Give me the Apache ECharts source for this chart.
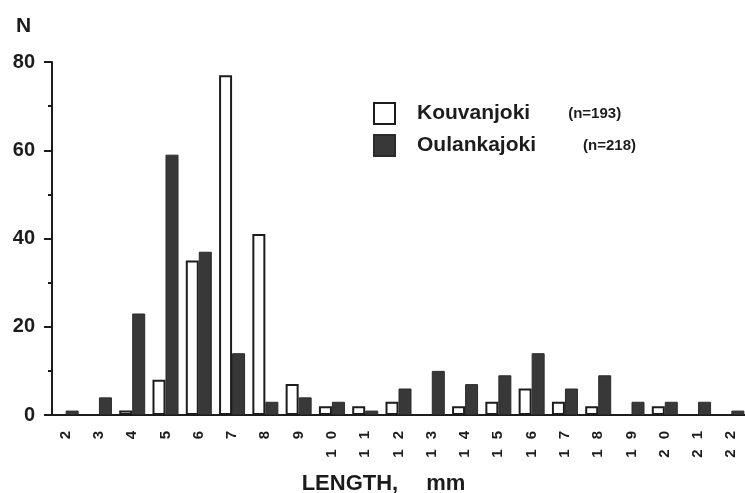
<!DOCTYPE html>
<html>
<head>
<meta charset="utf-8">
<script src="https://cdn.jsdelivr.net/npm/echarts@6/dist/echarts.min.js"></script>
<style>
html,body{margin:0;padding:0;background:#fff;}
#chart{width:745px;height:493px;}
</style>
</head>
<body>
<div id="chart"></div>
<script>
const categories = ['2','3','4','5','6','7','8','9','10','11','12','13','14','15','16','17','18','19','20','21','22'];
const kouvanjoki = [0,0,1,8,35,77,41,7,2,2,3,0,2,3,6,3,2,0,2,0,0];
const oulankajoki = [1,4,23,59,37,14,3,4,3,1,6,10,7,9,14,6,9,3,3,3,1];
const yTicks = [0,20,40,60,80];
const seriesNames = ['Kouvanjoki','Oulankajoki'];
const sampleSizes = ['(n=193)','(n=218)'];

const FONT = '"Liberation Sans", Arial, Helvetica, sans-serif';
const INK = '#1c1c1c';

const chart = echarts.init(document.getElementById('chart'), null, {renderer:'canvas'});
chart.setOption({
  backgroundColor:'#ffffff',
  animation:false,
  title:{
    text:'N', left:11, top:11,
    textStyle:{fontFamily:FONT, fontWeight:'bold', fontSize:21, color:INK}
  },
  legend:{
    orient:'vertical', left:373, top:102, padding:0,
    icon:'rect',
    itemWidth:21, itemHeight:21, itemGap:9,
    data:seriesNames,
    formatter:function(name){
      const i = seriesNames.indexOf(name);
      return '{s|}{a|'+name+'}{'+(i===0?'g1':'g2')+'|}{b|'+sampleSizes[i]+'}';
    },
    textStyle:{
      fontFamily:FONT, color:INK,
      rich:{
        s:{width:17},
        a:{fontFamily:FONT, fontWeight:'bold', fontSize:21, color:INK},
        g1:{width:38},
        g2:{width:47},
        b:{fontFamily:FONT, fontWeight:'bold', fontSize:15, color:INK}
      }
    }
  },
  grid:{left:49, right:-3, top:62, bottom:78, outerBoundsMode:'none'},
  xAxis:{
    type:'category',
    data:categories,
    boundaryGap:true,
    name:'{a|LENGTH,}{s|}{a|mm}',
    nameLocation:'middle',
    nameGap:58,
    nameTextStyle:{
      padding:[0,30,0,0],
      rich:{
        a:{fontFamily:FONT, fontWeight:'bold', fontSize:22, color:INK},
        s:{width:28}
      }
    },
    axisLine:{lineStyle:{color:INK, width:2}},
    axisTick:{alignWithLabel:true, length:7, lineStyle:{color:INK, width:2}},
    axisLabel:{
      rotate:90, margin:16, interval:0,
      formatter:function(v){ return v.split('').map(function(c){return '{d|'+c+'}';}).join(''); },
      rich:{ d:{fontFamily:FONT, fontWeight:'bold', fontSize:15, color:INK, padding:[0,0,0,10]} }
    },
    splitLine:{show:false}
  },
  yAxis:{
    type:'value',
    min:yTicks[0], max:yTicks[yTicks.length-1], interval:20,
    offset:-3,
    axisLine:{show:true, lineStyle:{color:INK, width:2}},
    axisTick:{show:true, length:8, lineStyle:{color:INK, width:2}},
    minorTick:{show:true, splitNumber:2, length:4, lineStyle:{color:INK, width:2}},
    axisLabel:{margin:17, fontFamily:FONT, fontWeight:'bold', fontSize:20, color:INK},
    splitLine:{show:false}
  },
  series:[
    {
      name:seriesNames[0], type:'bar', data:kouvanjoki,
      barWidth:13, barGap:'0%',
      itemStyle:{color:'#ffffff', borderColor:INK, borderWidth:2}
    },
    {
      name:seriesNames[1], type:'bar', data:oulankajoki,
      barWidth:13, barGap:'0%',
      itemStyle:{color:'#383838', borderColor:'#2a2a2a', borderWidth:1}
    }
  ]
});
</script>
</body>
</html>
